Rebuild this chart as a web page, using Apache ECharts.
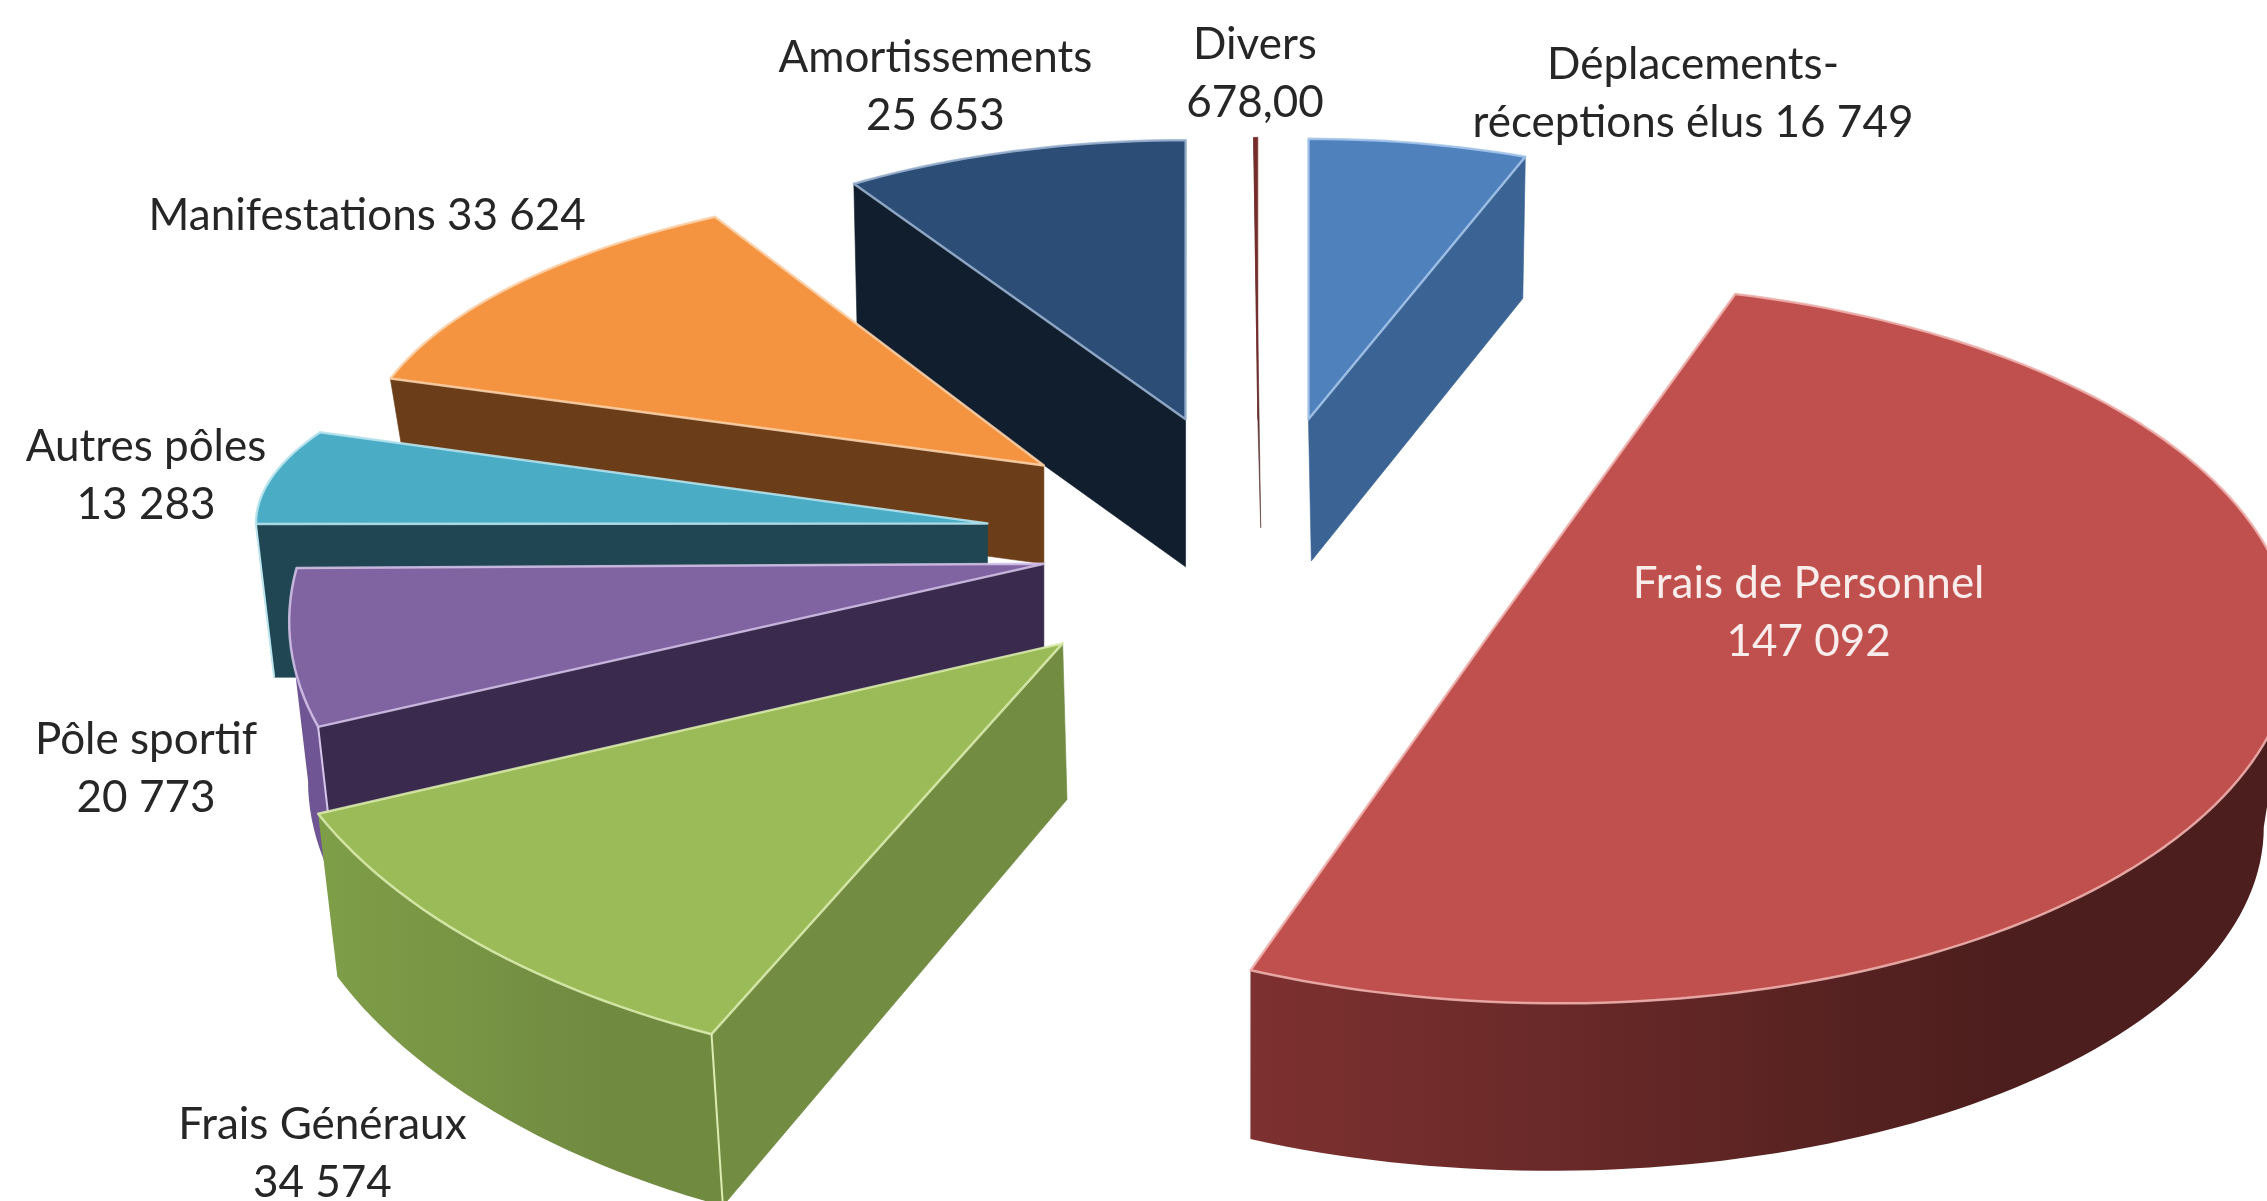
<!DOCTYPE html>
<html><head><meta charset="utf-8">
<style>html,body{margin:0;padding:0;background:#fff}#c{width:2267px;height:1201px}</style>
<script src="https://cdn.jsdelivr.net/npm/echarts@6/dist/echarts.min.js"></script>
</head><body><div id="c"></div>
<script>
// ---- data (clockwise from 12 o'clock) ----
const categories = ['Déplacements-\nréceptions élus','Frais de Personnel','Frais Généraux','Pôle sportif','Autres pôles','Manifestations','Amortissements','Divers'];
const values = [16749,147092,34574,20773,13283,33624,25653,678];
const valueLabels = ['16 749','147 092','34 574','20 773','13 283','33 624','25 653','678,00'];
const labelSeparators = [' ','\n','\n','\n','\n',' ','\n','\n'];

// ---- styling / layout (in units of the 1568-wide preview) ----
const UNIT = 2267/1568;
const drawOrder = [6,7,0,5,4,3,2,1];
const layout = [
 {apex:[905,290],rx:426,ry:194,depth:98,wall:[.975,1],wallDx:2,shift:[0,0],label:[1171,65]},
 {apex:[1032,436],centre:[1078,445],rx:508,ry:249,depth:127,wall:[.972,.955],wallDx:-6,shift:[-6.7,3.1],label:[1251,424]},
 {apex:[735,445],rx:560,ry:300,depth:108,wall:[.98,1.04],wallDx:3,shift:[4,2.6],label:[223,798]},
 {apex:[722,390],centre:[722,430],rx:522,ry:265,depth:110,wall:[.975,1],wallDx:0,shift:[9.8,8.2],label:[101,532]},
 {apex:[683,362],rx:506,ry:154,depth:106,wall:[.975,1],wallDx:0,shift:[0,8],label:[101,329]},
 {apex:[722,322],rx:475,ry:196,depth:68,wall:[.975,1],wallDx:0,shift:[1.7,3.8],label:[254,149]},
 {apex:[820,290],rx:428,ry:193,depth:102,wall:[.99,1],wallDx:0,shift:[0,.85],label:[647,60]},
 {apex:[870,290],rx:200,ry:195,depth:75,wall:[1,1],wallDx:2,shift:[0,0],label:[868,51]}
];
const palette = [
 {top:'#4F81BD',edge:'#A9C8EC',wall:'#3B6495',rim:['#3B6495','#3B6495']},
 {top:'#BF504D',edge:'#F0B5B2',wall:'#6B2A29',rim:['#7D3130','#4C1E1D']},
 {top:'#9BBA58',edge:'#DCEDB0',wall:'#728C42',rim:['#7F9E48','#708A40']},
 {top:'#8064A2',edge:'#D6C6EA',wall:'#3A2A4D',rim:['#6F5594','#6F5594']},
 {top:'#4BACC6',edge:'#BCE6F0',wall:'#1F4652',rim:['#1F4652','#1F4652']},
 {top:'#F49440',edge:'#FBD3AE',wall:'#6B3D18',rim:['#6B3D18','#6B3D18']},
 {top:'#2C4D75',edge:'#9FB6D4',wall:'#111E2E',rim:['#111E2E','#111E2E']},
 {top:'#772C2A',edge:'#772C2A',wall:'#5A3634',rim:['#772C2A','#772C2A']}
];
const FONT = 'Lato';
const FONT_SIZE = 44;
const LINE_HEIGHT = 58;
const TEXT = '#262626', TEXT_INSIDE = '#F9ECEB';

const total = values.reduce((a,b)=>a+b,0);
const cumStart = values.map((_,i)=>values.slice(0,i).reduce((a,b)=>a+b,0));
const toAngle = v => echarts.number.linearMap(v,[0,total],[0,360]);

function renderItem(params, api){
  const i = api.value(1), value = api.value(0);
  const L = layout[i], C = palette[i];
  const th0 = toAngle(cumStart[i]), th1 = toAngle(cumStart[i]+value);
  const phi0 = th0+L.shift[0], phi1 = th1+L.shift[1];
  const A = L.apex.map(v=>v*UNIT);
  const O = (L.centre||L.apex).map(v=>v*UNIT);
  const rx = L.rx*UNIT, ry = L.ry*UNIT, d = L.depth*UNIT, dx = L.wallDx*UNIT;
  const rim = phi => { const r = phi*Math.PI/180; return [O[0]+rx*Math.sin(r), O[1]-ry*Math.cos(r)]; };
  const low = p => [O[0]+dx+L.wall[0]*(p[0]-O[0]), O[1]+d+L.wall[1]*(p[1]-O[1])];
  const steps = Math.max(2, Math.ceil((phi1-phi0)/1.5));
  const arc = [];
  for(let k=0;k<=steps;k++) arc.push(rim(phi0+(phi1-phi0)*k/steps));
  const kids = [];
  const poly = (pts,fill)=>kids.push({type:'polygon',shape:{points:pts},style:{fill:fill,stroke:typeof fill==='string'?fill:null,lineWidth:typeof fill==='string'?.6:0}});
  const line = (pts,w)=>kids.push({type:'polyline',shape:{points:pts},style:{fill:null,stroke:C.edge,lineWidth:w,lineJoin:'round'}});
  const mid = rim((phi0+phi1)/2);
  const lowA = [A[0]+dx, A[1]+d];
  // radial walls: visible when the extrusion leaves the slice's top face
  const radialVisible = P => {
    const ex=P[0]-A[0], ey=P[1]-A[1];
    const side=(mid[0]-A[0])*(-ey)+(mid[1]-A[1])*ex;
    return side*ex<0 && Math.abs(ex)>1;
  };
  const wallEdges = [];
  [arc[0],arc[arc.length-1]].forEach(P=>{
    if(radialVisible(P)){
      poly([A,P,low(P),lowA],C.wall);
      wallEdges.push(P);
    }
  });
  // outer wall: only the front-facing part of the rim
  const from = Math.max(phi0,90), to = Math.min(phi1,270);
  if(to>from){
    const n = Math.ceil((to-from)/1.5), up=[], dn=[];
    for(let k=0;k<=n;k++){ const p=rim(from+(to-from)*k/n); up.push(p); dn.push(low(p)); }
    poly(up.concat(dn.reverse()), new echarts.graphic.LinearGradient(0,0,1,0,[
      {offset:0,color:C.rim[0]},{offset:.72,color:C.rim[1]},{offset:1,color:C.rim[1]}]));
  }
  // top face
  const top = [A].concat(arc);
  poly(top,C.top);
  if(i!==7) kids.push({type:'polygon',shape:{points:top},style:{fill:null,stroke:C.edge,lineWidth:2.5,lineJoin:'round',opacity:.85}});
  // rim/radial junction
  if(to>from) wallEdges.forEach(P=>line([P,low(P)],2));
  // label
  kids.push({type:'text',style:{
    x:L.label[0]*UNIT,y:L.label[1]*UNIT,
    text:categories[i]+labelSeparators[i]+valueLabels[i],
    fontFamily:FONT,fontSize:FONT_SIZE,lineHeight:LINE_HEIGHT,
    fill:i===1?TEXT_INSIDE:TEXT,align:'center',verticalAlign:'middle'},z2:10});
  return {type:'group',children:kids};
}

const chart = echarts.init(document.getElementById('c'));
chart.setOption({
  animation:false,
  backgroundColor:'#ffffff',
  series:[{type:'custom',coordinateSystem:'none',renderItem,silent:true,
    progressive:0,
    data:drawOrder.map(i=>[values[i],i])}]
});
</script></body></html>
